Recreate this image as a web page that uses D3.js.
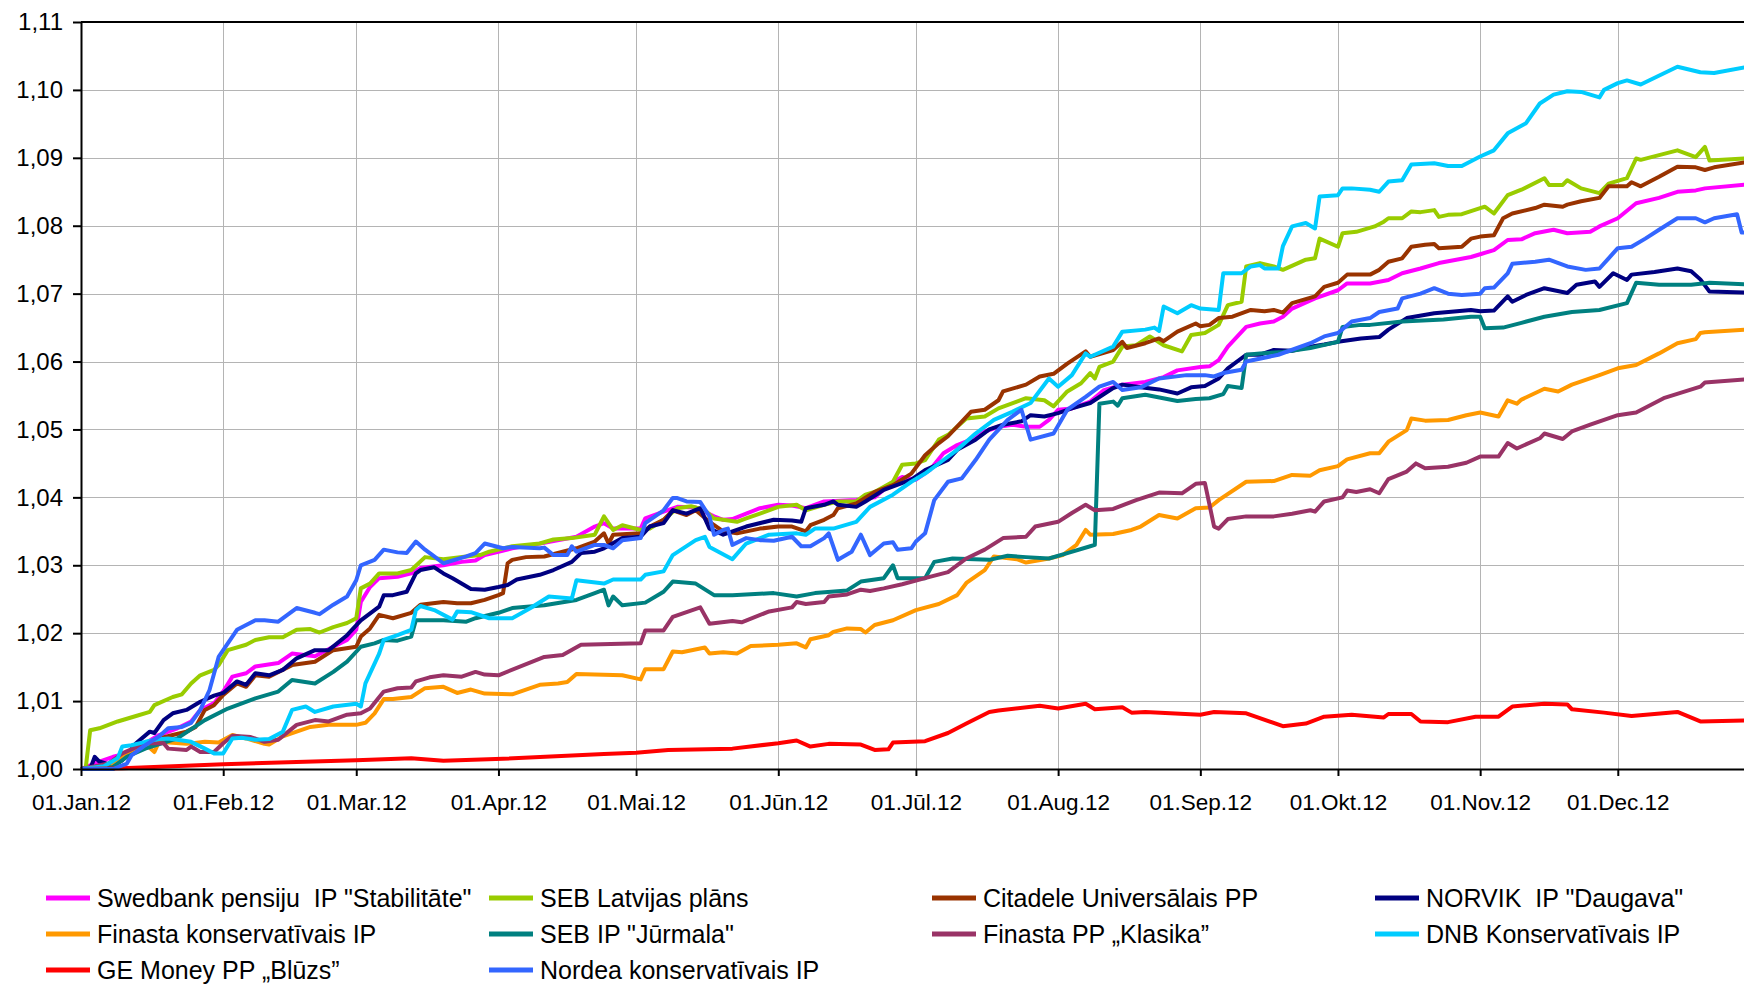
<!DOCTYPE html>
<html>
<head>
<meta charset="utf-8">
<script src="https://cdn.jsdelivr.net/npm/d3@7"></script>
<style>
  body { margin: 0; background: #fff; }
  svg { display: block; font-family: Arial, "Liberation Sans", sans-serif; }
  .grid line { stroke: #b4b4b4; stroke-width: 1; }
  .axis path, .axis line { stroke: #000; stroke-width: 2; }
  .axis text { fill: #000; }
  .legend text { white-space: pre; }
</style>
</head>
<body>
<div class="chart"></div>
<script>
  // series, [date (2012), value]
  var swedbank = [["01-01",1.0000],["01-05",1.0011],["01-08",1.0018],["01-11",1.0023],["01-15",1.0038],["01-18",1.0050],["01-22",1.0060],["01-25",1.0070],["01-27",1.0087],["01-30",1.0097],["02-01",1.0114],["02-03",1.0136],["02-06",1.0141],["02-08",1.0151],["02-13",1.0156],["02-16",1.0170],["02-21",1.0166],["02-25",1.0180],["02-28",1.0190],["03-01",1.0205],["03-02",1.0246],["03-04",1.0268],["03-06",1.0281],["03-10",1.0283],["03-13",1.0288],["03-15",1.0296],["03-20",1.0300],["03-24",1.0305],["03-27",1.0307],["03-29",1.0315],["04-01",1.0320],["04-04",1.0325],["04-11",1.0333],["04-18",1.0342],["04-22",1.0357],["04-24",1.0362],["04-26",1.0354],["05-02",1.0354],["05-03",1.0369],["05-07",1.0379],["05-10",1.0386],["05-14",1.0385],["05-18",1.0372],["05-20",1.0367],["05-22",1.0368],["05-25",1.0376],["05-28",1.0384],["06-01",1.0389],["06-04",1.0388],["06-07",1.0384],["06-11",1.0394],["06-18",1.0396],["06-22",1.0400],["06-26",1.0423],["06-28",1.0430],["07-01",1.0426],["07-04",1.0440],["07-07",1.0465],["07-10",1.0477],["07-13",1.0485],["07-16",1.0497],["07-19",1.0504],["07-22",1.0507],["07-25",1.0504],["07-28",1.0504],["07-30",1.0514],["08-01",1.0529],["08-04",1.0531],["08-08",1.0541],["08-11",1.0558],["08-15",1.0566],["08-20",1.0570],["08-24",1.0577],["08-27",1.0587],["09-01",1.0592],["09-03",1.0593],["09-05",1.0602],["09-07",1.0622],["09-11",1.0651],["09-14",1.0656],["09-17",1.0659],["09-19",1.0666],["09-21",1.0678],["09-26",1.0693],["10-01",1.0705],["10-03",1.0715],["10-08",1.0715],["10-12",1.0720],["10-15",1.0730],["10-19",1.0737],["10-23",1.0745],["10-30",1.0754],["11-01",1.0758],["11-04",1.0764],["11-07",1.0779],["11-10",1.0780],["11-13",1.0789],["11-17",1.0794],["11-20",1.0789],["11-25",1.0791],["11-27",1.0799],["12-01",1.0811],["12-05",1.0833],["12-10",1.0841],["12-14",1.0850],["12-18",1.0852],["12-20",1.0855],["12-31",1.0862]];

  var sebLatvija = [["01-01",1.0000],["01-02",1.0000],["01-03",1.0057],["01-05",1.0060],["01-09",1.0070],["01-13",1.0078],["01-16",1.0084],["01-17",1.0094],["01-21",1.0106],["01-23",1.0110],["01-25",1.0126],["01-27",1.0138],["01-30",1.0146],["01-31",1.0153],["02-02",1.0175],["02-06",1.0183],["02-08",1.0190],["02-11",1.0194],["02-14",1.0194],["02-17",1.0205],["02-20",1.0206],["02-22",1.0201],["02-25",1.0209],["02-28",1.0215],["03-01",1.0222],["03-02",1.0266],["03-04",1.0273],["03-06",1.0288],["03-10",1.0288],["03-13",1.0293],["03-16",1.0312],["03-20",1.0309],["03-25",1.0313],["03-28",1.0315],["03-30",1.0320],["04-04",1.0328],["04-10",1.0332],["04-13",1.0338],["04-17",1.0340],["04-22",1.0345],["04-24",1.0372],["04-26",1.0352],["04-28",1.0359],["05-02",1.0352],["05-04",1.0354],["05-07",1.0367],["05-10",1.0384],["05-13",1.0387],["05-16",1.0381],["05-18",1.0369],["05-20",1.0367],["05-23",1.0364],["05-25",1.0369],["05-28",1.0376],["06-01",1.0386],["06-05",1.0389],["06-07",1.0381],["06-11",1.0389],["06-14",1.0394],["06-18",1.0394],["06-20",1.0404],["06-22",1.0408],["06-26",1.0423],["06-28",1.0448],["07-01",1.0450],["07-03",1.0455],["07-06",1.0485],["07-08",1.0492],["07-12",1.0516],["07-16",1.0519],["07-19",1.0531],["07-23",1.0541],["07-25",1.0546],["07-29",1.0543],["07-31",1.0534],["08-03",1.0556],["08-06",1.0568],["08-08",1.0583],["08-09",1.0575],["08-10",1.0592],["08-13",1.0600],["08-15",1.0622],["08-18",1.0624],["08-21",1.0637],["08-24",1.0624],["08-28",1.0615],["08-30",1.0639],["09-02",1.0642],["09-05",1.0654],["09-07",1.0683],["09-10",1.0688],["09-11",1.0740],["09-14",1.0745],["09-17",1.0740],["09-19",1.0735],["09-24",1.0750],["09-26",1.0752],["09-27",1.0781],["10-01",1.0769],["10-02",1.0789],["10-05",1.0791],["10-09",1.0799],["10-11",1.0806],["10-12",1.0811],["10-15",1.0811],["10-17",1.0821],["10-19",1.0820],["10-22",1.0823],["10-23",1.0813],["10-25",1.0816],["10-28",1.0817],["11-01",1.0826],["11-02",1.0828],["11-04",1.0818],["11-07",1.0845],["11-10",1.0853],["11-15",1.0870],["11-16",1.0860],["11-19",1.0860],["11-20",1.0867],["11-23",1.0855],["11-27",1.0848],["11-29",1.0862],["12-03",1.0870],["12-05",1.0899],["12-06",1.0897],["12-14",1.0911],["12-18",1.0901],["12-20",1.0916],["12-21",1.0896],["12-31",1.0900]];

  var citadele = [["01-01",1.0000],["01-08",1.0000],["01-10",1.0018],["01-13",1.0033],["01-17",1.0043],["01-21",1.0050],["01-24",1.0055],["01-26",1.0062],["01-28",1.0087],["01-30",1.0094],["02-01",1.0109],["02-04",1.0126],["02-06",1.0121],["02-08",1.0138],["02-11",1.0136],["02-16",1.0153],["02-21",1.0158],["02-25",1.0175],["03-01",1.0180],["03-02",1.0195],["03-04",1.0207],["03-06",1.0227],["03-09",1.0222],["03-13",1.0230],["03-15",1.0242],["03-20",1.0246],["03-23",1.0244],["03-26",1.0244],["03-29",1.0249],["04-01",1.0256],["04-02",1.0259],["04-03",1.0303],["04-04",1.0308],["04-07",1.0312],["04-11",1.0313],["04-15",1.0320],["04-18",1.0325],["04-22",1.0335],["04-24",1.0347],["04-25",1.0332],["04-26",1.0345],["05-02",1.0347],["05-04",1.0357],["05-07",1.0367],["05-09",1.0381],["05-12",1.0374],["05-14",1.0381],["05-17",1.0364],["05-20",1.0350],["05-23",1.0347],["05-28",1.0354],["06-01",1.0357],["06-04",1.0357],["06-07",1.0350],["06-08",1.0359],["06-11",1.0367],["06-13",1.0374],["06-14",1.0384],["06-18",1.0391],["06-22",1.0408],["06-26",1.0418],["06-30",1.0435],["07-03",1.0462],["07-06",1.0480],["07-08",1.0490],["07-13",1.0526],["07-16",1.0529],["07-19",1.0543],["07-20",1.0556],["07-25",1.0566],["07-28",1.0578],["07-31",1.0582],["08-03",1.0597],["08-07",1.0615],["08-08",1.0607],["08-13",1.0617],["08-15",1.0629],["08-16",1.0620],["08-20",1.0627],["08-23",1.0634],["08-24",1.0630],["08-27",1.0644],["08-31",1.0656],["09-01",1.0652],["09-03",1.0654],["09-05",1.0664],["09-08",1.0666],["09-12",1.0676],["09-15",1.0674],["09-17",1.0676],["09-19",1.0672],["09-21",1.0686],["09-26",1.0696],["09-28",1.0710],["10-01",1.0716],["10-03",1.0728],["10-08",1.0728],["10-10",1.0735],["10-12",1.0747],["10-15",1.0752],["10-17",1.0769],["10-20",1.0772],["10-22",1.0773],["10-23",1.0767],["10-28",1.0769],["10-30",1.0781],["11-01",1.0784],["11-04",1.0786],["11-06",1.0811],["11-08",1.0818],["11-13",1.0826],["11-15",1.0831],["11-19",1.0828],["11-20",1.0831],["11-23",1.0836],["11-27",1.0841],["11-29",1.0858],["12-03",1.0858],["12-04",1.0864],["12-06",1.0858],["12-10",1.0872],["12-14",1.0887],["12-18",1.0886],["12-20",1.0882],["12-22",1.0886],["12-31",1.0896]];

  var norvik = [["01-01",1.0000],["01-03",1.0000],["01-04",1.0018],["01-05",1.0011],["01-08",1.0005],["01-10",1.0013],["01-13",1.0038],["01-16",1.0055],["01-17",1.0053],["01-19",1.0072],["01-21",1.0082],["01-24",1.0087],["01-27",1.0099],["01-30",1.0108],["02-01",1.0112],["02-04",1.0129],["02-06",1.0124],["02-08",1.0141],["02-11",1.0138],["02-14",1.0146],["02-17",1.0163],["02-21",1.0175],["02-24",1.0175],["02-28",1.0197],["03-02",1.0219],["03-06",1.0239],["03-07",1.0256],["03-09",1.0256],["03-12",1.0261],["03-14",1.0288],["03-15",1.0293],["03-18",1.0297],["03-20",1.0288],["03-22",1.0281],["03-26",1.0265],["03-29",1.0264],["04-01",1.0268],["04-03",1.0271],["04-05",1.0279],["04-10",1.0286],["04-13",1.0293],["04-17",1.0305],["04-19",1.0318],["04-22",1.0320],["04-24",1.0325],["04-28",1.0340],["05-02",1.0342],["05-04",1.0357],["05-07",1.0362],["05-09",1.0381],["05-12",1.0376],["05-15",1.0384],["05-17",1.0354],["05-20",1.0345],["05-25",1.0357],["05-31",1.0367],["06-04",1.0366],["06-06",1.0364],["06-07",1.0384],["06-11",1.0389],["06-13",1.0394],["06-14",1.0389],["06-18",1.0386],["06-20",1.0394],["06-24",1.0411],["06-30",1.0426],["07-03",1.0440],["07-08",1.0455],["07-10",1.0470],["07-14",1.0485],["07-17",1.0500],["07-20",1.0507],["07-24",1.0512],["07-26",1.0521],["07-29",1.0519],["08-01",1.0524],["08-04",1.0531],["08-08",1.0539],["08-13",1.0561],["08-15",1.0566],["08-19",1.0562],["08-23",1.0559],["08-27",1.0553],["08-30",1.0562],["09-02",1.0564],["09-05",1.0575],["09-07",1.0590],["09-11",1.0610],["09-14",1.0610],["09-17",1.0617],["09-21",1.0616],["09-25",1.0622],["09-28",1.0625],["10-01",1.0629],["10-06",1.0634],["10-10",1.0636],["10-12",1.0647],["10-16",1.0664],["10-22",1.0671],["10-30",1.0676],["11-01",1.0674],["11-04",1.0675],["11-07",1.0696],["11-08",1.0688],["11-11",1.0698],["11-15",1.0708],["11-20",1.0701],["11-22",1.0713],["11-26",1.0718],["11-27",1.0710],["11-30",1.0730],["12-03",1.0720],["12-04",1.0728],["12-09",1.0732],["12-14",1.0737],["12-17",1.0733],["12-19",1.0721],["12-21",1.0703],["12-31",1.0701]];

  var finastaKons = [["01-01",1.0000],["01-07",1.0005],["01-10",1.0018],["01-15",1.0037],["01-17",1.0025],["01-18",1.0040],["01-24",1.0037],["01-28",1.0040],["01-31",1.0039],["02-03",1.0050],["02-06",1.0045],["02-10",1.0037],["02-11",1.0036],["02-14",1.0048],["02-20",1.0062],["02-24",1.0065],["03-01",1.0065],["03-03",1.0068],["03-05",1.0082],["03-07",1.0103],["03-09",1.0103],["03-13",1.0106],["03-16",1.0119],["03-20",1.0121],["03-23",1.0112],["03-26",1.0117],["03-29",1.0111],["04-04",1.0110],["04-10",1.0124],["04-14",1.0126],["04-16",1.0128],["04-18",1.0140],["04-28",1.0138],["05-02",1.0132],["05-03",1.0147],["05-07",1.0147],["05-09",1.0173],["05-11",1.0172],["05-16",1.0179],["05-17",1.0170],["05-20",1.0172],["05-23",1.0170],["05-26",1.0181],["06-01",1.0183],["06-05",1.0185],["06-07",1.0179],["06-08",1.0191],["06-12",1.0197],["06-13",1.0202],["06-16",1.0207],["06-19",1.0206],["06-20",1.0201],["06-22",1.0212],["06-26",1.0219],["07-01",1.0234],["07-06",1.0243],["07-10",1.0256],["07-12",1.0274],["07-16",1.0293],["07-18",1.0313],["07-23",1.0309],["07-25",1.0304],["07-30",1.0310],["08-02",1.0315],["08-05",1.0330],["08-07",1.0352],["08-08",1.0345],["08-13",1.0346],["08-17",1.0352],["08-19",1.0357],["08-23",1.0374],["08-27",1.0369],["08-31",1.0384],["09-03",1.0385],["09-05",1.0396],["09-11",1.0423],["09-17",1.0424],["09-21",1.0433],["09-25",1.0432],["09-27",1.0440],["10-01",1.0446],["10-03",1.0456],["10-08",1.0465],["10-10",1.0465],["10-12",1.0482],["10-16",1.0499],["10-17",1.0516],["10-20",1.0513],["10-25",1.0514],["10-29",1.0521],["11-01",1.0525],["11-05",1.0519],["11-07",1.0543],["11-09",1.0538],["11-10",1.0544],["11-15",1.0560],["11-18",1.0556],["11-21",1.0566],["11-27",1.0580],["12-01",1.0590],["12-05",1.0595],["12-10",1.0612],["12-14",1.0627],["12-18",1.0633],["12-19",1.0642],["12-20",1.0643],["12-31",1.0648]];

  var sebJurmala = [["01-01",1.0000],["01-08",1.0003],["01-11",1.0018],["01-15",1.0030],["01-22",1.0045],["01-28",1.0072],["02-02",1.0089],["02-08",1.0104],["02-13",1.0114],["02-16",1.0131],["02-21",1.0126],["02-25",1.0143],["02-28",1.0158],["03-02",1.0180],["03-05",1.0185],["03-07",1.0190],["03-10",1.0189],["03-13",1.0195],["03-14",1.0219],["03-20",1.0219],["03-25",1.0217],["03-27",1.0222],["04-01",1.0230],["04-04",1.0237],["04-11",1.0241],["04-18",1.0249],["04-22",1.0259],["04-24",1.0264],["04-25",1.0241],["04-26",1.0254],["04-28",1.0241],["05-03",1.0245],["05-07",1.0261],["05-09",1.0276],["05-14",1.0273],["05-18",1.0256],["05-22",1.0256],["05-31",1.0259],["06-05",1.0254],["06-09",1.0259],["06-16",1.0263],["06-19",1.0276],["06-24",1.0281],["06-26",1.0300],["06-27",1.0281],["07-03",1.0281],["07-05",1.0305],["07-09",1.0310],["07-17",1.0308],["07-21",1.0314],["07-25",1.0312],["07-30",1.0310],["08-03",1.0318],["08-08",1.0328],["08-09",1.0330],["08-10",1.0538],["08-13",1.0541],["08-14",1.0535],["08-15",1.0546],["08-20",1.0551],["08-27",1.0542],["08-31",1.0545],["09-03",1.0546],["09-06",1.0552],["09-07",1.0564],["09-10",1.0561],["09-11",1.0610],["09-14",1.0612],["09-19",1.0614],["09-25",1.0620],["10-01",1.0629],["10-02",1.0651],["10-06",1.0654],["10-08",1.0654],["10-15",1.0659],["10-24",1.0662],["10-30",1.0666],["11-01",1.0666],["11-02",1.0649],["11-06",1.0650],["11-10",1.0657],["11-15",1.0666],["11-21",1.0673],["11-27",1.0676],["12-03",1.0686],["12-05",1.0716],["12-10",1.0713],["12-17",1.0713],["12-21",1.0716],["12-31",1.0713]];

  var finastaKlasika = [["01-01",1.0000],["01-07",1.0008],["01-10",1.0023],["01-15",1.0038],["01-19",1.0038],["01-20",1.0030],["01-24",1.0028],["01-25",1.0033],["01-27",1.0025],["01-30",1.0025],["02-01",1.0038],["02-03",1.0049],["02-07",1.0047],["02-10",1.0040],["02-13",1.0043],["02-17",1.0065],["02-21",1.0072],["02-24",1.0070],["02-28",1.0080],["03-02",1.0082],["03-04",1.0089],["03-07",1.0114],["03-10",1.0119],["03-13",1.0120],["03-14",1.0129],["03-17",1.0135],["03-20",1.0138],["03-24",1.0136],["03-27",1.0143],["03-29",1.0139],["04-01",1.0138],["04-11",1.0165],["04-15",1.0168],["04-19",1.0183],["05-02",1.0185],["05-03",1.0204],["05-07",1.0204],["05-09",1.0224],["05-15",1.0238],["05-17",1.0214],["05-22",1.0218],["05-24",1.0216],["05-30",1.0232],["06-04",1.0238],["06-05",1.0246],["06-07",1.0243],["06-11",1.0246],["06-12",1.0254],["06-16",1.0257],["06-19",1.0264],["06-21",1.0262],["06-24",1.0266],["06-28",1.0272],["07-04",1.0283],["07-08",1.0290],["07-12",1.0310],["07-16",1.0323],["07-20",1.0340],["07-25",1.0342],["07-27",1.0357],["08-01",1.0364],["08-04",1.0377],["08-07",1.0389],["08-09",1.0381],["08-13",1.0383],["08-18",1.0396],["08-23",1.0407],["08-28",1.0406],["08-31",1.0420],["09-02",1.0421],["09-04",1.0357],["09-05",1.0354],["09-07",1.0368],["09-11",1.0372],["09-17",1.0372],["09-21",1.0376],["09-25",1.0381],["09-26",1.0379],["09-28",1.0394],["10-02",1.0400],["10-03",1.0410],["10-05",1.0408],["10-08",1.0412],["10-10",1.0406],["10-12",1.0427],["10-16",1.0438],["10-18",1.0450],["10-20",1.0443],["10-25",1.0445],["10-29",1.0451],["11-01",1.0460],["11-05",1.0460],["11-07",1.0480],["11-09",1.0472],["11-14",1.0487],["11-15",1.0494],["11-19",1.0486],["11-21",1.0497],["11-25",1.0507],["12-01",1.0521],["12-05",1.0525],["12-11",1.0546],["12-19",1.0563],["12-20",1.0569],["12-31",1.0575]];

  var dnb = [["01-01",1.0000],["01-06",1.0004],["01-09",1.0016],["01-10",1.0033],["01-12",1.0035],["01-15",1.0040],["01-18",1.0044],["01-20",1.0045],["01-22",1.0043],["01-25",1.0040],["01-28",1.0030],["01-30",1.0023],["02-01",1.0023],["02-03",1.0045],["02-05",1.0046],["02-08",1.0043],["02-11",1.0044],["02-14",1.0055],["02-16",1.0087],["02-19",1.0092],["02-21",1.0084],["02-25",1.0092],["03-01",1.0096],["03-02",1.0092],["03-03",1.0126],["03-06",1.0170],["03-07",1.0190],["03-10",1.0197],["03-13",1.0205],["03-14",1.0234],["03-15",1.0240],["03-18",1.0234],["03-22",1.0220],["03-23",1.0232],["03-26",1.0231],["03-30",1.0222],["04-04",1.0222],["04-08",1.0237],["04-12",1.0254],["04-17",1.0251],["04-18",1.0278],["04-24",1.0273],["04-26",1.0279],["05-02",1.0279],["05-03",1.0286],["05-07",1.0291],["05-09",1.0315],["05-14",1.0337],["05-16",1.0342],["05-17",1.0327],["05-22",1.0309],["05-25",1.0332],["05-30",1.0345],["06-05",1.0347],["06-07",1.0345],["06-09",1.0354],["06-13",1.0354],["06-18",1.0364],["06-21",1.0386],["06-26",1.0404],["06-30",1.0423],["07-03",1.0435],["07-07",1.0455],["07-10",1.0470],["07-14",1.0494],["07-18",1.0514],["07-22",1.0526],["07-26",1.0539],["07-30",1.0575],["08-01",1.0563],["08-04",1.0580],["08-07",1.0612],["08-08",1.0607],["08-13",1.0622],["08-15",1.0644],["08-20",1.0647],["08-22",1.0650],["08-23",1.0645],["08-24",1.0681],["08-27",1.0671],["08-30",1.0683],["09-01",1.0678],["09-05",1.0676],["09-06",1.0730],["09-10",1.0730],["09-12",1.0740],["09-14",1.0742],["09-15",1.0737],["09-18",1.0737],["09-19",1.0770],["09-21",1.0799],["09-24",1.0804],["09-26",1.0796],["09-27",1.0843],["10-01",1.0845],["10-02",1.0855],["10-04",1.0855],["10-08",1.0853],["10-10",1.0850],["10-12",1.0865],["10-15",1.0867],["10-17",1.0890],["10-22",1.0892],["10-25",1.0888],["10-28",1.0888],["11-01",1.0902],["11-04",1.0911],["11-07",1.0936],["11-11",1.0951],["11-14",1.0980],["11-17",1.0993],["11-20",1.0998],["11-23",1.0997],["11-27",1.0989],["11-28",1.1000],["12-01",1.1010],["12-03",1.1014],["12-06",1.1008],["12-14",1.1034],["12-19",1.1026],["12-22",1.1025],["12-31",1.1036]];

  var geMoney = [["01-01",1.0000],["01-10",1.0001],["02-01",1.0007],["03-01",1.0013],["03-13",1.0016],["03-20",1.0012],["04-02",1.0015],["04-24",1.0022],["05-01",1.0024],["05-08",1.0028],["05-22",1.0030],["06-01",1.0038],["06-05",1.0042],["06-08",1.0033],["06-12",1.0037],["06-19",1.0036],["06-22",1.0028],["06-25",1.0029],["06-26",1.0039],["07-03",1.0041],["07-08",1.0053],["07-12",1.0067],["07-17",1.0084],["07-19",1.0086],["07-28",1.0093],["08-01",1.0089],["08-07",1.0096],["08-09",1.0088],["08-15",1.0091],["08-17",1.0083],["08-20",1.0084],["09-01",1.0080],["09-04",1.0084],["09-11",1.0082],["09-19",1.0063],["09-24",1.0067],["09-28",1.0077],["10-04",1.0080],["10-11",1.0076],["10-12",1.0081],["10-17",1.0081],["10-19",1.0070],["10-25",1.0069],["10-31",1.0077],["11-05",1.0077],["11-08",1.0092],["11-15",1.0096],["11-20",1.0095],["11-21",1.0088],["11-28",1.0083],["12-04",1.0078],["12-14",1.0084],["12-19",1.0070],["12-31",1.0072]];

  var nordea = [["01-01",1.0000],["01-08",1.0000],["01-11",1.0008],["01-12",1.0020],["01-15",1.0035],["01-18",1.0048],["01-20",1.0060],["01-23",1.0062],["01-25",1.0068],["01-27",1.0087],["01-29",1.0116],["01-31",1.0165],["02-01",1.0175],["02-04",1.0205],["02-06",1.0212],["02-08",1.0219],["02-10",1.0219],["02-13",1.0217],["02-17",1.0237],["02-21",1.0230],["02-22",1.0228],["02-25",1.0242],["02-28",1.0254],["03-01",1.0278],["03-02",1.0300],["03-05",1.0308],["03-07",1.0323],["03-10",1.0319],["03-12",1.0318],["03-14",1.0335],["03-16",1.0323],["03-18",1.0313],["03-20",1.0303],["03-25",1.0313],["03-27",1.0318],["03-29",1.0332],["04-02",1.0325],["04-04",1.0327],["04-10",1.0325],["04-11",1.0326],["04-13",1.0315],["04-16",1.0315],["04-17",1.0328],["04-18",1.0320],["04-22",1.0330],["04-24",1.0330],["04-26",1.0325],["04-28",1.0337],["05-02",1.0340],["05-03",1.0362],["05-07",1.0381],["05-09",1.0399],["05-10",1.0399],["05-12",1.0394],["05-15",1.0393],["05-17",1.0372],["05-18",1.0345],["05-20",1.0352],["05-21",1.0354],["05-22",1.0330],["05-25",1.0340],["05-28",1.0337],["05-31",1.0336],["06-04",1.0342],["06-06",1.0328],["06-08",1.0328],["06-11",1.0340],["06-12",1.0347],["06-14",1.0308],["06-17",1.0320],["06-19",1.0345],["06-21",1.0315],["06-24",1.0332],["06-26",1.0334],["06-27",1.0323],["06-30",1.0325],["07-01",1.0335],["07-03",1.0347],["07-05",1.0396],["07-08",1.0423],["07-11",1.0428],["07-14",1.0455],["07-17",1.0485],["07-21",1.0514],["07-24",1.0529],["07-26",1.0485],["07-31",1.0494],["08-03",1.0529],["08-07",1.0548],["08-10",1.0563],["08-13",1.0570],["08-15",1.0558],["08-19",1.0562],["08-23",1.0575],["08-29",1.0580],["09-02",1.0580],["09-04",1.0578],["09-06",1.0583],["09-10",1.0588],["09-11",1.0600],["09-18",1.0610],["09-25",1.0627],["09-28",1.0637],["10-01",1.0642],["10-04",1.0659],["10-08",1.0664],["10-10",1.0673],["10-14",1.0678],["10-15",1.0693],["10-19",1.0700],["10-22",1.0708],["10-25",1.0700],["10-28",1.0698],["11-01",1.0700],["11-02",1.0708],["11-04",1.0709],["11-07",1.0730],["11-08",1.0744],["11-13",1.0747],["11-16",1.0750],["11-20",1.0740],["11-24",1.0735],["11-27",1.0737],["11-29",1.0752],["12-01",1.0767],["12-04",1.0769],["12-07",1.0781],["12-10",1.0794],["12-14",1.0811],["12-18",1.0811],["12-20",1.0805],["12-22",1.0811],["12-27",1.0817],["12-28",1.0790],["12-31",1.0790]];

  var seriesNames = ["Swedbank pensiju  IP \"Stabilitāte\"", "SEB Latvijas plāns", "Citadele Universālais PP", "NORVIK  IP \"Daugava\"",
    "Finasta konservatīvais IP", "SEB IP \"Jūrmala\"", "Finasta PP „Klasika”", "DNB Konservatīvais IP",
    "GE Money PP „Blūzs”", "Nordea konservatīvais IP"];
  var seriesData = [swedbank, sebLatvija, citadele, norvik, finastaKons, sebJurmala, finastaKlasika, dnb, geMoney, nordea];
  var seriesColors = ["#ff00ff", "#99cc00", "#993300", "#000080", "#ff9900", "#008080", "#993366", "#00ccff", "#ff0000", "#3366ff"];

  var yTicks = [1.00, 1.01, 1.02, 1.03, 1.04, 1.05, 1.06, 1.07, 1.08, 1.09, 1.10, 1.11];
  var monthLabels = ["01.Jan.12", "01.Feb.12", "01.Mar.12", "01.Apr.12", "01.Mai.12", "01.Jūn.12",
    "01.Jūl.12", "01.Aug.12", "01.Sep.12", "01.Okt.12", "01.Nov.12", "01.Dec.12"];

  var W = 1744, H = 984;
  var margin = { top: 22, left: 81, bottom: 215 };
  var plotRight = 1760; // plot area runs past the right edge of the picture
  var height = H - margin.top - margin.bottom;

  var parse = d3.timeParse("%Y-%m-%d");
  var monthStarts = d3.range(12).map(function(m) { return new Date(2012, m, 1); });

  var x = d3.scaleTime()
    .domain([new Date(2012, 0, 1), new Date(2013, 0, 1)])
    .range([margin.left, plotRight]);

  var y = d3.scaleLinear()
    .domain([1.00, 1.11])
    .range([margin.top + height, margin.top]);

  var svg = d3.select(".chart").append("svg")
    .attr("width", W)
    .attr("height", H);

  // gridlines
  var grid = svg.append("g").attr("class", "grid");
  grid.selectAll(".h")
    .data(yTicks.slice(1, -1))
    .enter().append("line")
    .attr("x1", margin.left).attr("x2", plotRight)
    .attr("y1", function(d) { return Math.round(y(d)) + 0.5; })
    .attr("y2", function(d) { return Math.round(y(d)) + 0.5; });
  grid.selectAll(".v")
    .data(monthStarts.slice(1))
    .enter().append("line")
    .attr("y1", margin.top).attr("y2", margin.top + height)
    .attr("x1", function(d) { return Math.round(x(d)) + 0.5; })
    .attr("x2", function(d) { return Math.round(x(d)) + 0.5; });

  // lines
  var line = d3.line()
    .x(function(d) { return x(parse("2012-" + d[0])); })
    .y(function(d) { return y(d[1]); });

  svg.append("g")
    .selectAll("path")
    .data(seriesData)
    .enter().append("path")
    .attr("fill", "none")
    .attr("stroke", function(d, i) { return seriesColors[i]; })
    .attr("stroke-width", 4)
    .attr("stroke-linejoin", "round")
    .attr("d", line);

  // top border of plot area
  svg.append("line")
    .attr("x1", margin.left).attr("x2", plotRight)
    .attr("y1", y(1.11)).attr("y2", y(1.11))
    .attr("stroke", "#000").attr("stroke-width", 2);

  // axes
  svg.append("g")
    .attr("class", "axis")
    .attr("transform", "translate(" + margin.left + ",0)")
    .call(d3.axisLeft(y)
      .tickValues(yTicks)
      .tickSize(8)
      .tickSizeOuter(0)
      .tickPadding(10)
      .tickFormat(function(d) { return d3.format(".2f")(d).replace(".", ","); }))
    .selectAll("text")
    .style("font-size", "24px");

  svg.append("g")
    .attr("class", "axis")
    .attr("transform", "translate(0," + (margin.top + height) + ")")
    .call(d3.axisBottom(x)
      .tickValues(monthStarts)
      .tickSize(7)
      .tickSizeOuter(0)
      .tickPadding(18)
      .tickFormat(function(d, i) { return monthLabels[i]; }))
    .selectAll("text")
    .style("font-size", "22.5px");

  // legend, 4 columns
  var legend = svg.append("g")
    .attr("class", "legend")
    .selectAll("g")
    .data(seriesNames)
    .enter().append("g")
    .attr("transform", function(d, i) {
      return "translate(" + (46 + (i % 4) * 443) + "," + (898 + Math.floor(i / 4) * 36) + ")";
    });

  legend.append("line")
    .attr("x1", 0).attr("x2", 44)
    .attr("stroke", function(d, i) { return seriesColors[i]; })
    .attr("stroke-width", 5);

  legend.append("text")
    .attr("x", 51)
    .attr("dy", "0.36em")
    .style("font-size", "25px")
    .text(function(d) { return d; });
</script>
</body>
</html>
